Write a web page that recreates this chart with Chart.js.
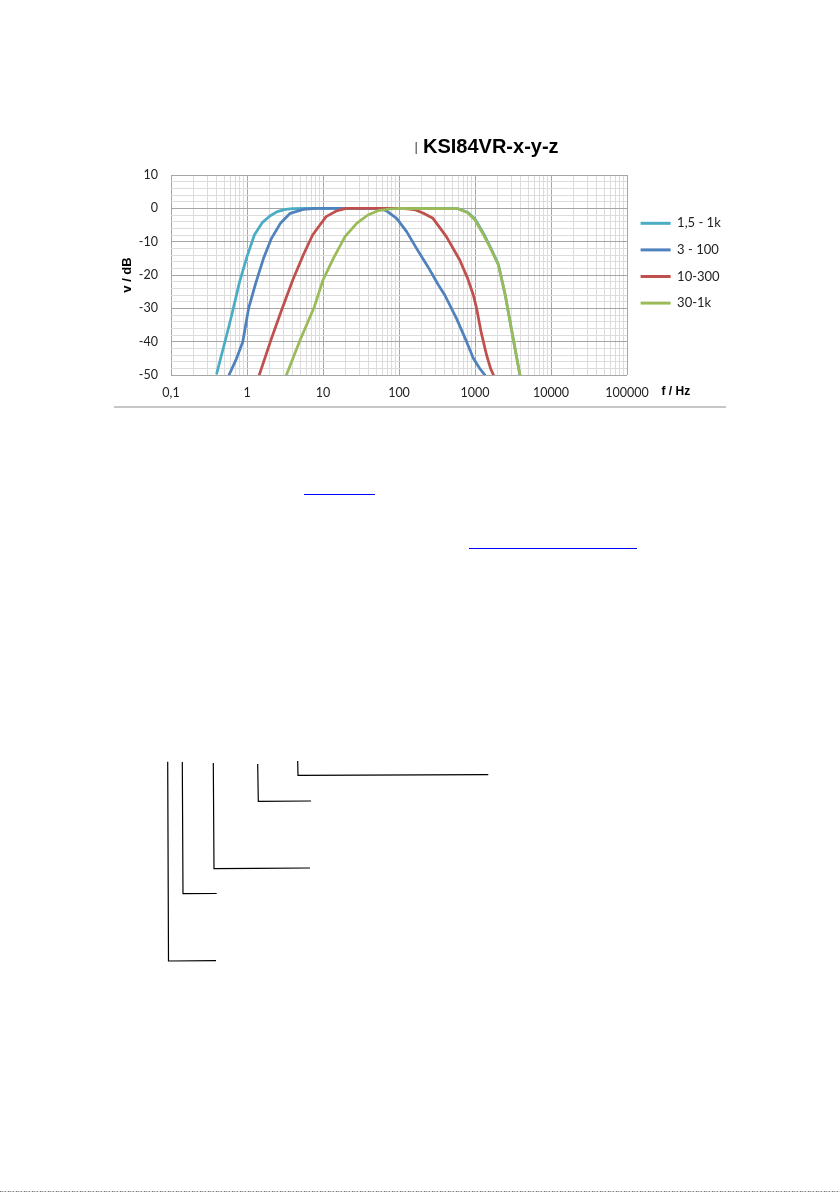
<!DOCTYPE html>
<html>
<head>
<meta charset="utf-8">
<script src="https://cdn.jsdelivr.net/npm/chart.js@4.4.1/dist/chart.umd.min.js"></script>
<style>
html,body{margin:0;padding:0;background:#fff;}
body{width:840px;height:1192px;position:relative;overflow:hidden;}
#wrap{position:absolute;left:0;top:100px;width:840px;height:320px;}
.hr{position:absolute;left:114px;top:406px;width:612px;height:2px;background:#c6c6c6;}
.ul{position:absolute;height:1px;background:#0000ff;}
.noise{position:absolute;left:0;top:1191px;width:840px;height:1px;
  background:repeating-linear-gradient(90deg,#6a6a8a 0 1px,#c9c9c9 1px 2px,#8a9a6a 2px 3px,#d0d0d0 3px 5px,#9a6a8a 5px 6px,#e0e0e0 6px 8px);}
svg.conn{position:absolute;left:0;top:0;}
</style>
</head>
<body>
<div id="wrap"><canvas id="c"></canvas></div>
<div class="hr"></div>
<div class="ul" style="left:304px;top:494px;width:71px;"></div>
<div class="ul" style="left:469px;top:548px;width:168px;"></div>
<svg class="conn" width="840" height="1192">
  <g stroke="#000" stroke-width="1.2" fill="none">
    <polyline points="167.7,761.7 168.5,961 216,960.7"/>
    <polyline points="182.3,762 183,893.7 216.7,893.5"/>
    <polyline points="213.3,763 214,868.7 310,868"/>
    <polyline points="257.7,764 258.3,801.3 311,801"/>
    <polyline points="297.7,761 298,775.3 488.3,774.7"/>
  </g>
</svg>
<div class="noise"></div>
<script>
// ---- Data ----
const chartTitle = 'KSI84VR-x-y-z';
const yAxisTitle = 'v / dB';
const xAxisTitle = 'f / Hz';
const seriesNames = ['1,5 - 1k', '3 - 100', '10-300', '30-1k'];
const seriesColors = ['#4bacc6', '#4f81bd', '#c0504d', '#9bbb59'];

const cyanFreq = [0.4, 0.5, 0.63, 0.8, 1.0, 1.25, 1.6, 2.0, 2.5, 3.2, 4, 6, 10, 100, 400, 600, 800, 1000, 1300, 1600, 2030, 2500, 3000, 3900];
const cyanDb   = [-49.5, -41, -32, -22, -14.5, -8, -4.2, -2.3, -1.0, -0.3, -0.1, 0, 0, 0, 0, -0.1, -1.2, -3.2, -7.6, -11.7, -16.8, -26, -36, -50];

const blueFreq = [0.58, 0.73, 0.88, 1.05, 1.3, 1.65, 2.1, 2.75, 3.7, 5.5, 8, 50, 60, 70, 93, 126, 170, 240, 330, 400, 570, 775, 950, 1150, 1350];
const blueDb   = [-50, -45, -40, -30, -22.5, -15, -9, -4.5, -1.5, -0.3, 0, 0, -0.3, -0.9, -3, -7, -12, -17.5, -23, -26, -33, -40, -45, -48, -50];

const redFreq = [1.45, 2.1, 2.8, 4.0, 5.5, 7.3, 9.1, 11, 15, 20, 100, 130, 165, 210, 280, 420, 630, 800, 950, 1050, 1200, 1420, 1600, 1750];
const redDb   = [-50, -39, -31, -21.5, -14, -8, -5, -2.5, -0.8, 0, 0, -0.2, -0.5, -1.5, -3, -8.5, -15.5, -21, -26, -30, -37, -44, -48, -50];

const greenFreq = [3.3, 5.0, 7.7, 10, 13.7, 19.5, 27.7, 39, 53, 75, 100, 600, 800, 1000, 1300, 1600, 2030, 2500, 3000, 3900];
const greenDb   = [-50, -39.5, -29.5, -21.5, -15, -8.5, -4.5, -2, -0.7, -0.2, 0, -0.1, -1.3, -3.5, -8, -12, -17, -26, -36, -50];

const xMajors = [0.1, 1, 10, 100, 1000, 10000, 100000];
const xTickLabels = ['0,1', '1', '10', '100', '1000', '10000', '100000'];
const yMin = -50, yMax = 10, yMinorStep = 2, yMajorStep = 10;

// ---- Build ----
const freqs = [cyanFreq, blueFreq, redFreq, greenFreq];
const dbs = [cyanDb, blueDb, redDb, greenDb];
const drawOrder = [3, 2, 1, 0]; // later series drawn on top

const datasets = seriesNames.map((name, i) => ({
  label: name,
  data: freqs[i].map((f, j) => ({x: f, y: dbs[i][j]})),
  borderColor: seriesColors[i],
  backgroundColor: seriesColors[i],
  borderWidth: 2.75,
  pointRadius: 0,
  pointHoverRadius: 0,
  tension: 0,
  borderJoinStyle: 'round',
  borderCapStyle: 'round',
  order: drawOrder[i]
}));

const xGrid = [];
xMajors.forEach((m, i) => {
  if (i < xMajors.length - 1) { for (let k = 1; k <= 9; k++) xGrid.push(m * k); }
  else xGrid.push(m);
});
const isMajorX = v => xMajors.some(m => Math.abs(m - v) / m < 1e-9);

const MAJOR = '#a6a6a6', MINOR = '#dcdcdc';
const LEGEND_W = 120;

const decor = {
  id: 'decor',
  afterInit(chart) {
    const lg = chart.legend;
    if (lg) {
      const orig = lg.fit;
      lg.fit = function () { orig.call(this); if (this.options.display) this.width = LEGEND_W; };
    }
  },
  afterDraw(chart) {
    const ctx = chart.ctx;
    ctx.save();
    ctx.textAlign = 'left';
    ctx.textBaseline = 'alphabetic';
    ctx.fillStyle = '#444';
    ctx.font = '13px "Liberation Sans", Arial, sans-serif';
    ctx.fillText('|', 414.5, 51);
    ctx.fillStyle = '#000';
    ctx.font = 'bold 20px "Liberation Sans", Arial, sans-serif';
    ctx.fillText(chartTitle, 423, 52.5);
    ctx.font = 'bold 12px "Liberation Sans", Arial, sans-serif';
    ctx.textBaseline = 'middle';
    ctx.fillText(xAxisTitle, 661.5, 292);
    ctx.restore();
  }
};

new Chart(document.getElementById('c'), {
  type: 'line',
  data: {datasets},
  plugins: [decor],
  options: {
    responsive: true,
    maintainAspectRatio: false,
    animation: false,
    events: [],
    layout: {padding: {left: 110, top: 75, right: 840 - 627 - LEGEND_W, bottom: 15}},
    plugins: {
      tooltip: {enabled: false},
      title: {display: false},
      legend: {
        position: 'right',
        align: 'start',
        fullSize: false,
        title: {display: true, text: ' ', font: {size: 10, lineHeight: 1.2}, padding: {top: 8.1, bottom: 8.1}},
        labels: {
          boxWidth: 30,
          boxHeight: 3,
          padding: 13.6,
          color: '#222',
          font: {family: 'Lato', size: 13},
          generateLabels(chart) {
            return Chart.defaults.plugins.legend.labels.generateLabels(chart)
              .map(l => Object.assign({}, l, {lineWidth: 0}))
              .sort((a, b) => a.datasetIndex - b.datasetIndex);
          }
        }
      }
    },
    scales: {
      x: {
        type: 'logarithmic',
        min: xMajors[0],
        max: xMajors[xMajors.length - 1],
        afterBuildTicks(s) { s.ticks = xGrid.map(v => ({value: v})); },
        afterFit(s) { s.height = 30; },
        border: {display: false},
        grid: {
          drawTicks: false,
          lineWidth: 1,
          color: c => (c.tick && isMajorX(c.tick.value)) ? MAJOR : MINOR
        },
        ticks: {
          autoSkip: false,
          maxRotation: 0,
          padding: 10,
          color: '#222',
          font: {family: 'Lato', size: 12.5},
          callback(v) {
            const idx = xMajors.findIndex(m => Math.abs(m - v) / m < 1e-9);
            return idx >= 0 ? xTickLabels[idx] : '';
          }
        }
      },
      y: {
        min: yMin,
        max: yMax,
        afterFit(s) { s.width = 61; },
        border: {display: false},
        title: {
          display: true,
          text: yAxisTitle,
          color: '#000',
          font: {family: 'Liberation Sans', weight: 'bold', size: 13},
          padding: {top: 10, bottom: 0}
        },
        grid: {
          drawTicks: false,
          lineWidth: 1,
          color: c => (c.tick && c.tick.value % yMajorStep === 0) ? MAJOR : MINOR
        },
        ticks: {
          stepSize: yMinorStep,
          autoSkip: false,
          padding: 13,
          color: '#222',
          font: {family: 'Lato', size: 12.5},
          callback(v) { return v % yMajorStep === 0 ? String(v) : ''; }
        }
      }
    }
  }
});
</script>
</body>
</html>
